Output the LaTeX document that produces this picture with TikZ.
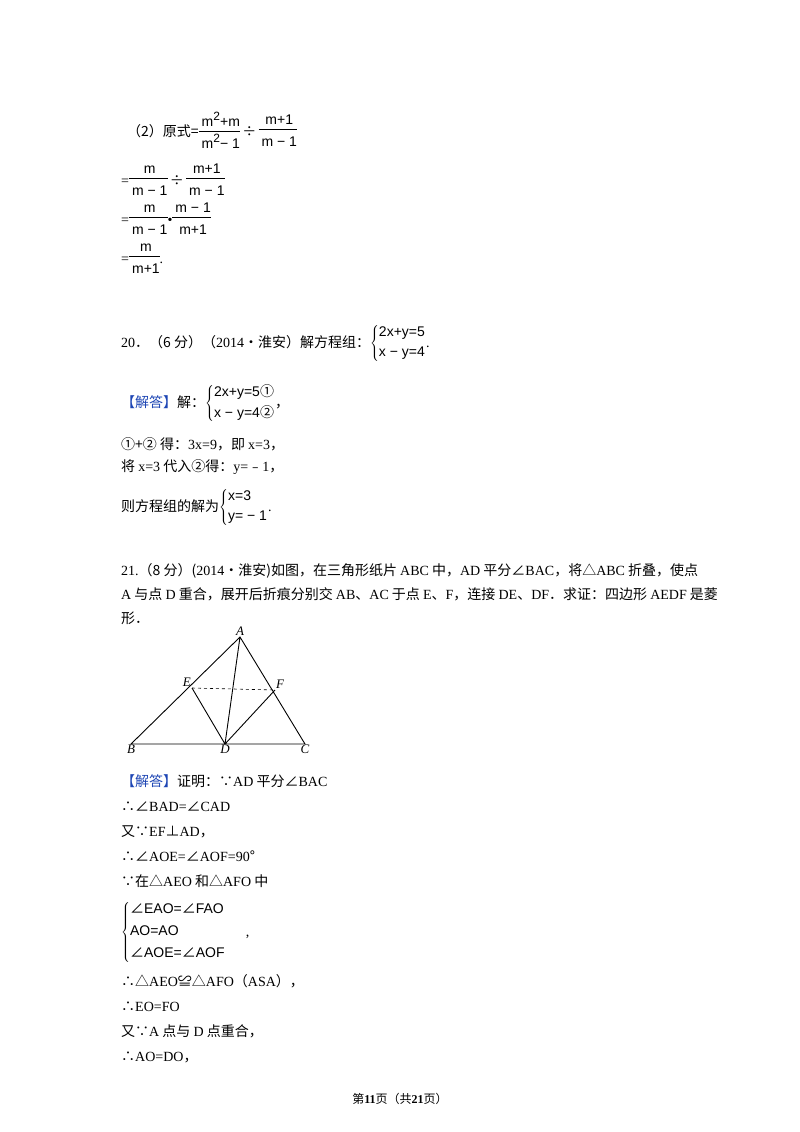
\documentclass[tikz,border=0pt]{standalone}
\usepackage{fontspec}
\setmainfont{Liberation Serif}
\newfontfamily\cjk{Noto Sans CJK SC}
\newfontfamily\fs{Liberation Sans}
\newcommand\z[1]{{\cjk #1}}
\newcommand\fr[2]{\begin{tabular}{@{}c@{}}\rule[-4pt]{0pt}{10pt}{\fs\hspace{3pt}#1\hspace{3pt}}\\\hline\rule{0pt}{17pt}{\fs\hspace{3pt}#2\hspace{3pt}}\end{tabular}}
\newcommand\sq{\raisebox{6pt}{\fontsize{12}{12}\selectfont 2}}
\definecolor{ans}{RGB}{30,70,180}
\tikzset{t/.style={anchor=base west,inner sep=0pt,font=\fontsize{14}{16}\selectfont},
 lab/.style={inner sep=1pt,font=\fontsize{13}{14}\selectfont\itshape}}
\begin{document}
\begin{tikzpicture}[x=1pt,y=-1pt]
\useasboundingbox (0,0) rectangle (800,1132);
\node[t] (l1) at (127,136) {\z{（2）原式=}\fr{m\sq+m}{m\sq − 1}\,\z{÷}\,\fr{m+1}{m − 1}};
\node[t] (l2) at (121,185) {=\fr{m}{m − 1}\,\z{÷}\,\fr{m+1}{m − 1}};
\node[t] (l3) at (121,224) {=\fr{m}{m − 1}\textbullet\fr{m − 1}{m+1}};
\node[t] (l4) at (121,263) {=\fr{m}{m+1}.};
\node[t] (q20) at (121,347) {20\z{．（6 分）（}2014\z{•淮安）解方程组：}$\left\{\begin{array}{@{}l@{}}\mbox{\fs 2x+y=5}\\[4pt] \mbox{\fs x − y=4}\end{array}\right.$.};
\node[t] (a20) at (121,407) {\z{\color{ans}【解答】}\z{解：}$\left\{\begin{array}{@{}l@{}}\mbox{\fs 2x+y=5\z{①}}\\[4pt] \mbox{\fs x − y=4\z{②}}\end{array}\right.$\z{，}};
\node[t] (s1) at (121,449) {\z{①+② 得：}3x=9\z{，即 }x=3\z{，}};
\node[t] (s2) at (121,471) {\z{将 }x=3\z{ 代入②得：}y=\z{﹣}1\z{，}};
\node[t] (s3) at (121,511) {\z{则方程组的解为}$\left\{\begin{array}{@{}l@{}}\mbox{\fs x=3}\\[4pt] \mbox{\fs y= − 1}\end{array}\right.$.};
\node[t] (q1) at (121,575) {21.\z{（8 分）(}2014\z{•淮安)如图，在三角形纸片 }ABC\z{ 中，}AD\z{ 平分∠}BAC\z{，将△}ABC\z{ 折叠，使点}};
\node[t] (q2) at (121,599) {A\z{ 与点 }D\z{ 重合，展开后折痕分别交 }AB\z{、}AC\z{ 于点 }E\z{、}F\z{，连接 }DE\z{、}DF\z{．求证：四边形 }AEDF\z{ 是菱}};
\node[t] (q3) at (121,623) {\z{形．}};
% figure
\coordinate (A) at (240,637); \coordinate (B) at (131,744); \coordinate (C) at (305,744);
\coordinate (D) at (225,744); \coordinate (E) at (192,688); \coordinate (F) at (275,690);
\draw[line width=0.9pt] (A)--(B)--(C)--cycle (A)--(D) (E)--(D)--(F);
\draw[dashed,line width=0.6pt] (E)--(F);
\node[lab,anchor=south] at (A) {A};
\node[lab,anchor=south east] at (E) {E};
\node[lab,anchor=south west] at (F) {F};
\node[lab,anchor=north] at (B) {B};
\node[lab,anchor=north] at (C) {C};
\node[lab,anchor=north] at (D) {D};
\node[t] (p1) at (121,786) {\z{\color{ans}【解答】}\z{证明：∵}AD\z{ 平分∠}BAC};
\node[t] (p2) at (121,811) {\z{∴∠}BAD=\z{∠}CAD};
\node[t] (p3) at (121,836) {\z{又∵}EF\z{⊥}AD\z{，}};
\node[t] (p4) at (121,861) {\z{∴∠}AOE=\z{∠}AOF=90\z{°}};
\node[t] (p5) at (121,886) {\z{∵在△}AEO\z{ 和△}AFO\z{ 中}};
\node[t] (p6) at (121,936) {$\left\{\begin{array}{@{}l@{}}\mbox{\fs\z{∠}EAO=\z{∠}FAO}\\[6pt] \mbox{\fs AO=AO}\\[6pt] \mbox{\fs\z{∠}AOE=\z{∠}AOF}\end{array}\right.$\hspace{20pt},};
\node[t] (p7) at (121,986) {\z{∴△}AEO\z{≌△}AFO\z{（}ASA\z{），}};
\node[t] (p8) at (121,1011) {\z{∴}EO=FO};
\node[t] (p9) at (121,1036) {\z{又∵}A\z{ 点与 }D\z{ 点重合，}};
\node[t] (p10) at (121,1061) {\z{∴}AO=DO\z{，}};
\node[anchor=base,inner sep=0pt,font=\fontsize{12}{14}\selectfont] (ft) at (400,1103) {\z{第}\textbf{11}\z{页（共}\textbf{21}\z{页）}};
\end{tikzpicture}
\end{document}
